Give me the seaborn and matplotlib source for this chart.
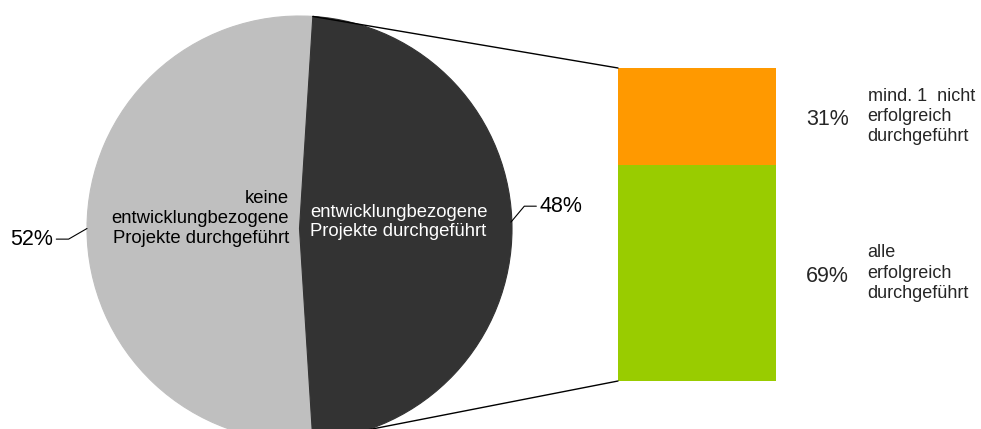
import matplotlib
matplotlib.use("Agg")
import matplotlib.pyplot as plt
from matplotlib.patches import ConnectionPatch
import numpy as np
import pandas as pd
import seaborn as sns

# ---- data ----
pie_labels = ["keine\nentwicklungbezogene\nProjekte durchgeführt",
              "entwicklungbezogene\nProjekte durchgeführt"]
pie_values = [52, 48]
pie_colors = ["#BFBFBF", "#333333"]

bar_labels = ["mind. 1  nicht\nerfolgreich\ndurchgeführt",
              "alle\nerfolgreich\ndurchgeführt"]
bar_values = [31, 69]
bar_colors = ["#FF9900", "#99CC00"]

sns.set_theme(style="white")
plt.rcParams["font.family"] = ["Liberation Sans", "DejaVu Sans"]

W, H = 981, 429
fig = plt.figure(figsize=(W / 100, H / 100), dpi=100)

def px_axes(x0, y0, x1, y1):
    return fig.add_axes([x0 / W, (H - y1) / H, (x1 - x0) / W, (y1 - y0) / H])

# ---- pie ----
axp = px_axes(87, 16, 512, 441)
dark_angle = pie_values[1] / sum(pie_values) * 360
start = 90 - (180 - dark_angle) / 2  # light slice starts near top
wedges, _ = axp.pie(pie_values, colors=pie_colors, startangle=start,
                    counterclock=True, radius=1.0, center=(0, 0))
for w, c in zip(wedges, pie_colors):
    w.set_edgecolor(c)
    w.set_linewidth(0.8)
axp.set_xlim(-1, 1)
axp.set_ylim(-1, 1)
axp.set_aspect("equal")
axp.axis("off")

# inner labels
axp.text(-0.05, 0.047, pie_labels[0], ha="right", va="center", fontsize=13.3,
         color="black", linespacing=1.2)
axp.text(0.05, 0.03, pie_labels[1], ha="left", va="center", fontsize=13.3,
         color="white", linespacing=1.2)

# percentage labels with leader lines
axp.annotate(f"{pie_values[0]}%", xy=(-1.0, 0.0), xytext=(-1.16, -0.05),
             ha="right", va="center", fontsize=15.5, color="black",
             arrowprops=dict(arrowstyle="-", color="black", lw=0.8,
                             connectionstyle="angle,angleA=0,angleB=30,rad=0",
                             shrinkA=0, shrinkB=0),
             annotation_clip=False)
axp.annotate(f"{pie_values[1]}%", xy=(0.995, 0.03), xytext=(1.13, 0.105),
             ha="left", va="center", fontsize=15.5, color="black",
             arrowprops=dict(arrowstyle="-", color="black", lw=0.8,
                             connectionstyle="angle,angleA=0,angleB=50,rad=0",
                             shrinkA=0, shrinkB=0),
             annotation_clip=False)

# ---- stacked bar ----
axb = px_axes(618, 68, 776, 381)
df_total = pd.DataFrame({"x": ["a"], "v": [sum(bar_values)]})
df_low = pd.DataFrame({"x": ["a"], "v": [bar_values[1]]})
sns.barplot(data=df_total, x="x", y="v", color=bar_colors[0], saturation=1,
            width=1.0, ax=axb, edgecolor="none")
sns.barplot(data=df_low, x="x", y="v", color=bar_colors[1], saturation=1,
            width=1.0, ax=axb, edgecolor="none")
axb.set_xlim(-0.5, 0.5)
axb.set_ylim(0, 100)
axb.axis("off")

# bar labels
tops = [100 - bar_values[0] / 2, bar_values[1] / 2]
for val, lab, y in zip(bar_values, bar_labels, tops):
    axb.text(0.69, y - 1.0, f"{val}%", ha="left", va="center", fontsize=15.5,
             clip_on=False)
    axb.text(1.08, y, lab, ha="left", va="center", fontsize=13,
             linespacing=1.25, clip_on=False)

# ---- connector lines ----
half = np.deg2rad(dark_angle / 2)
p_top = (np.cos(half), np.sin(half))
p_bot = (np.cos(half), -np.sin(half))
for pp, bq in [(p_top, (-0.5, 100)), (p_bot, (-0.5, 0))]:
    con = ConnectionPatch(xyA=pp, coordsA=axp.transData, xyB=bq,
                          coordsB=axb.transData, color="black", lw=1.0)
    fig.add_artist(con)

fig.savefig("out.png", dpi=100)
